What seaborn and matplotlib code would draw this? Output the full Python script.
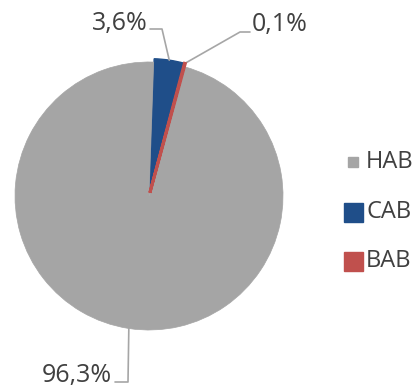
import numpy as np
import seaborn as sns
import matplotlib.pyplot as plt
from matplotlib.lines import Line2D

# Data
categories = ["CAB", "BAB", "HAB"]
shares = [3.6, 0.1, 96.3]
labels = ["3,6%", "0,1%", "96,3%"]
legend_order = ["HAB", "CAB", "BAB"]

colors = {"HAB": "#A5A5A5", "CAB": "#1F4E89", "BAB": "#C0504D"}
text_color = "#404040"

sns.set_theme(style="white")
plt.rcParams['font.family'] = ['Open Sans', 'DejaVu Sans']

fig = plt.figure(figsize=(4.2, 3.87), dpi=100)
# pie centre ~ (149,196) px, radius ~134 px
ax = fig.add_axes([15 / 420, 57 / 387, 268 / 420, 268 / 387])

wedge_colors = [colors[c] for c in categories]
wedges, _ = ax.pie(shares, colors=wedge_colors, startangle=88, counterclock=False,
                   explode=[0.025, 0.025, 0.0])
edge_w = {"CAB": 1.0, "BAB": 2.2, "HAB": 0.5}
for w, cat in zip(wedges, categories):
    w.set_edgecolor(colors[cat])
    w.set_linewidth(edge_w[cat])
wedges[1].set_zorder(3)
ax.set_xlim(-1, 1)
ax.set_ylim(-1, 1)
ax.set_aspect("equal")
ax.axis("off")


def px(x, y):
    # figure pixel -> pie data coords
    return (x - 149) / 134, (196 - y) / 134


# leader line elbows / ends and text anchors (pixel positions)
leaders = {
    "CAB": [(162, 29), (150, 29)],
    "BAB": [(240, 32), (250, 32)],
    "HAB": [(128, 382), (115, 382)],
}
text_pos = {"CAB": (148, 30, "right"), "BAB": (252, 31, "left"), "HAB": (112, 382, "right")}

for w, cat, lab in zip(wedges, categories, labels):
    mid = np.deg2rad((w.theta1 + w.theta2) / 2)
    cx, cy = w.center
    start = (cx + np.cos(mid), cy + np.sin(mid))
    pts = [start] + [px(*p) for p in leaders[cat]]
    xs, ys = zip(*pts)
    ax.plot(xs, ys, color="#A6A6A6", lw=1.2, clip_on=False)
    tx, ty, ha = text_pos[cat]
    ax.text(*px(tx, ty), lab, ha=ha, va="baseline", fontsize=18, color=text_color)

# legend
marker_px = {"HAB": 10, "CAB": 19, "BAB": 19}
for i, cat in enumerate(legend_order):
    y = 387 - (162 + 49.5 * i)
    fig.add_artist(Line2D([352.5 / 420], [y / 387], transform=fig.transFigure, marker="s",
                          ls="", markersize=marker_px[cat] * 0.72, color=colors[cat]))
    fig.text(366 / 420, y / 387, cat, ha="left", va="center", fontsize=17, color=text_color)

fig.savefig("out.png", dpi=100)
